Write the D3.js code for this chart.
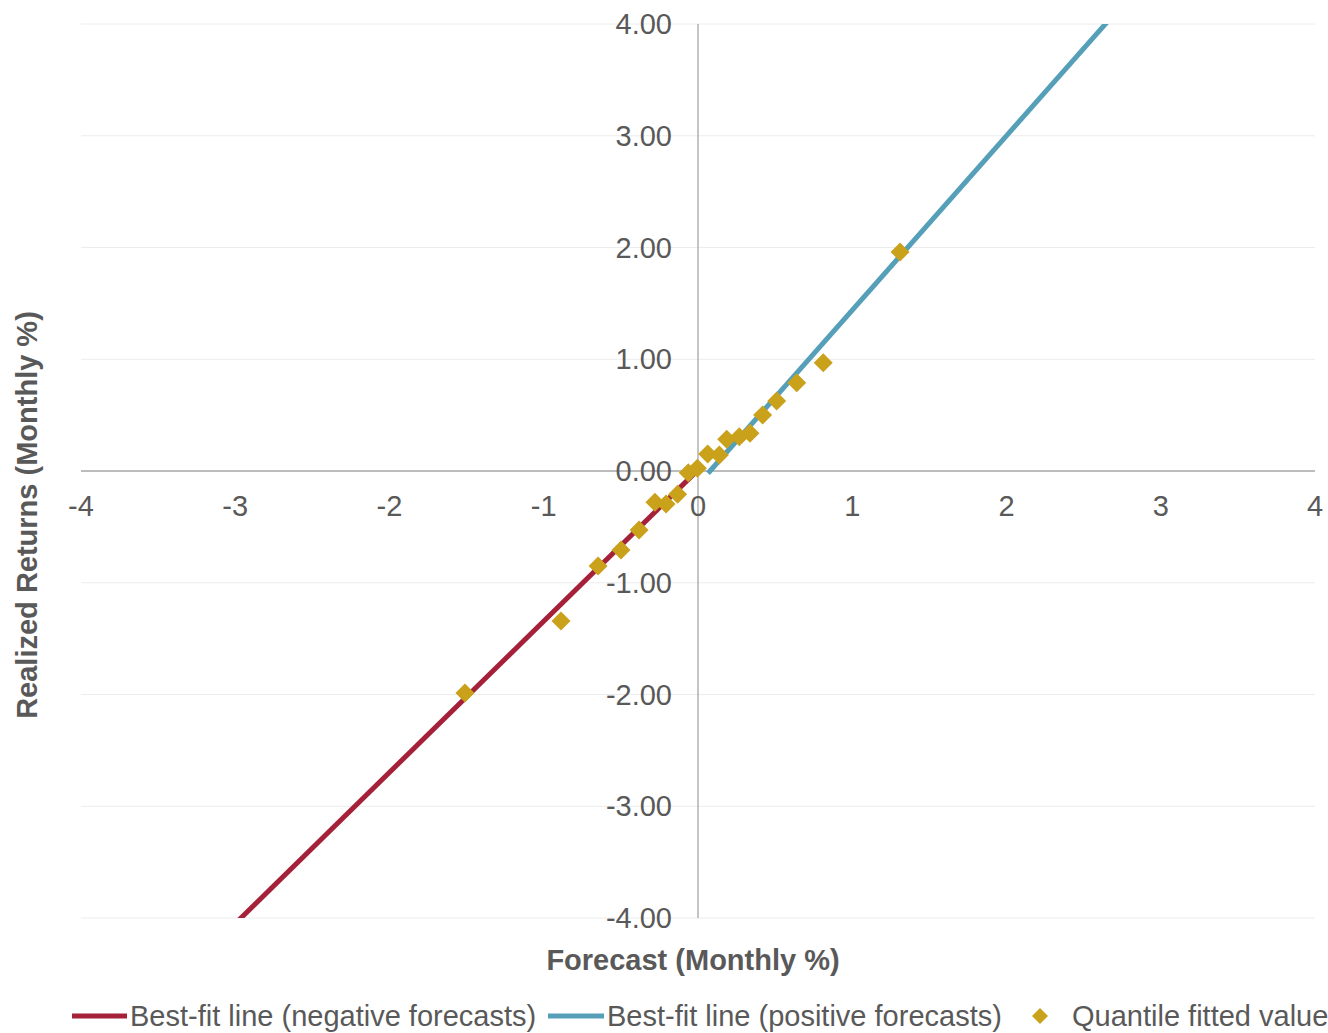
<!DOCTYPE html>
<html><head><meta charset="utf-8">
<script src="https://cdn.jsdelivr.net/npm/d3@7"></script>
<style>body{margin:0;background:#fff}svg{display:block}text{font-family:"Liberation Sans",Arial,sans-serif}</style>
</head><body><svg id="c" width="1328" height="1033"></svg>
<script>
const xTicks = [-4,-3,-2,-1,0,1,2,3,4];
const yTicks = [-4,-3,-2,-1,0,1,2,3,4];
const quantX = [-1.511,-0.888,-0.648,-0.499,-0.382,-0.279,-0.207,-0.132,-0.063,-0.004,0.063,0.138,0.186,0.268,0.337,0.419,0.510,0.640,0.812,1.310];
const quantY = [-1.987,-1.342,-0.850,-0.707,-0.528,-0.280,-0.295,-0.209,-0.015,0.024,0.152,0.143,0.284,0.307,0.337,0.501,0.626,0.790,0.969,1.960];
const negLineX = [-3.0, 0.0];
const negLineY = [-4.05, 0.01];
const posLineX = [0.065, 3.0];
const posLineY = [-0.02, 4.56];
const legendLabels = ["Best-fit line (negative forecasts)","Best-fit line (positive forecasts)","Quantile fitted value"];

const svg = d3.select("#c");
const x = d3.scaleLinear().domain([-4,4]).range([81,1315]);
const y = d3.scaleLinear().domain([-4,4]).range([918,24]);
const textCol = "#595959";
const red = "#a5213a", blue = "#559fb9", gold = "#c9a11b";
const fs = 29;

svg.append("g").selectAll("line").data(yTicks.filter(d=>d!==0)).join("line")
  .attr("x1",x(-4)).attr("x2",x(4)).attr("y1",d=>y(d)).attr("y2",d=>y(d))
  .attr("stroke","#ececec").attr("stroke-width",1);
svg.append("line").attr("x1",x(-4)).attr("x2",x(4)).attr("y1",y(0)).attr("y2",y(0)).attr("stroke","#a6a6a6").attr("stroke-width",1.3);
svg.append("line").attr("x1",x(0)).attr("x2",x(0)).attr("y1",y(4)).attr("y2",y(-4)).attr("stroke","#a6a6a6").attr("stroke-width",1.3);

svg.append("g").selectAll("text").data(yTicks).join("text")
  .attr("x",672).attr("y",d=>y(d)).attr("dy","0.35em").attr("text-anchor","end")
  .attr("font-size",fs).attr("fill",textCol).text(d=>d3.format(".2f")(d).replace("−","-"));
svg.append("g").selectAll("text").data(xTicks).join("text")
  .attr("x",d=>x(d)).attr("y",y(0)+35).attr("dy","0.35em").attr("text-anchor","middle")
  .attr("font-size",fs).attr("fill",textCol).text(d=>String(d));

svg.append("clipPath").attr("id","clip").append("rect").attr("x",x(-4)).attr("y",y(4)).attr("width",x(4)-x(-4)).attr("height",y(-4)-y(4));
const line = d3.line().x(d=>x(d[0])).y(d=>y(d[1]));
svg.append("path").datum(d3.zip(negLineX,negLineY)).attr("clip-path","url(#clip)")
  .attr("d",line).attr("fill","none").attr("stroke",red).attr("stroke-width",5);
svg.append("path").datum(d3.zip(posLineX,posLineY)).attr("clip-path","url(#clip)")
  .attr("d",line).attr("fill","none").attr("stroke",blue).attr("stroke-width",5);

const diamond = r => `M0,${-r}L${r},0L0,${r}L${-r},0Z`;
svg.append("g").selectAll("path").data(d3.zip(quantX,quantY)).join("path")
  .attr("transform",d=>`translate(${x(d[0])},${y(d[1])})`).attr("d",diamond(9.5)).attr("fill",gold);

svg.append("text").attr("x",693).attr("y",960).attr("dy","0.35em").attr("text-anchor","middle")
  .attr("font-size",fs).attr("font-weight","bold").attr("fill",textCol).text("Forecast (Monthly %)");
svg.append("text").attr("transform","translate(27,515) rotate(-90)").attr("dy","0.35em").attr("text-anchor","middle")
  .attr("font-size",fs).attr("font-weight","bold").attr("fill",textCol).text("Realized Returns (Monthly %)");

const ly = 1016;
const lg = svg.append("g");
lg.append("line").attr("x1",72).attr("x2",127).attr("y1",ly).attr("y2",ly).attr("stroke",red).attr("stroke-width",5);
lg.append("text").attr("x",130).attr("y",ly).attr("dy","0.35em").attr("font-size",fs).attr("fill",textCol).text(legendLabels[0]);
lg.append("line").attr("x1",548).attr("x2",604).attr("y1",ly).attr("y2",ly).attr("stroke",blue).attr("stroke-width",5);
lg.append("text").attr("x",607).attr("y",ly).attr("dy","0.35em").attr("font-size",fs).attr("fill",textCol).text(legendLabels[1]);
lg.append("path").attr("transform",`translate(1040,${ly})`).attr("d",diamond(8)).attr("fill",gold);
lg.append("text").attr("x",1072).attr("y",ly).attr("dy","0.35em").attr("font-size",fs).attr("fill",textCol).text(legendLabels[2]);
</script></body></html>
